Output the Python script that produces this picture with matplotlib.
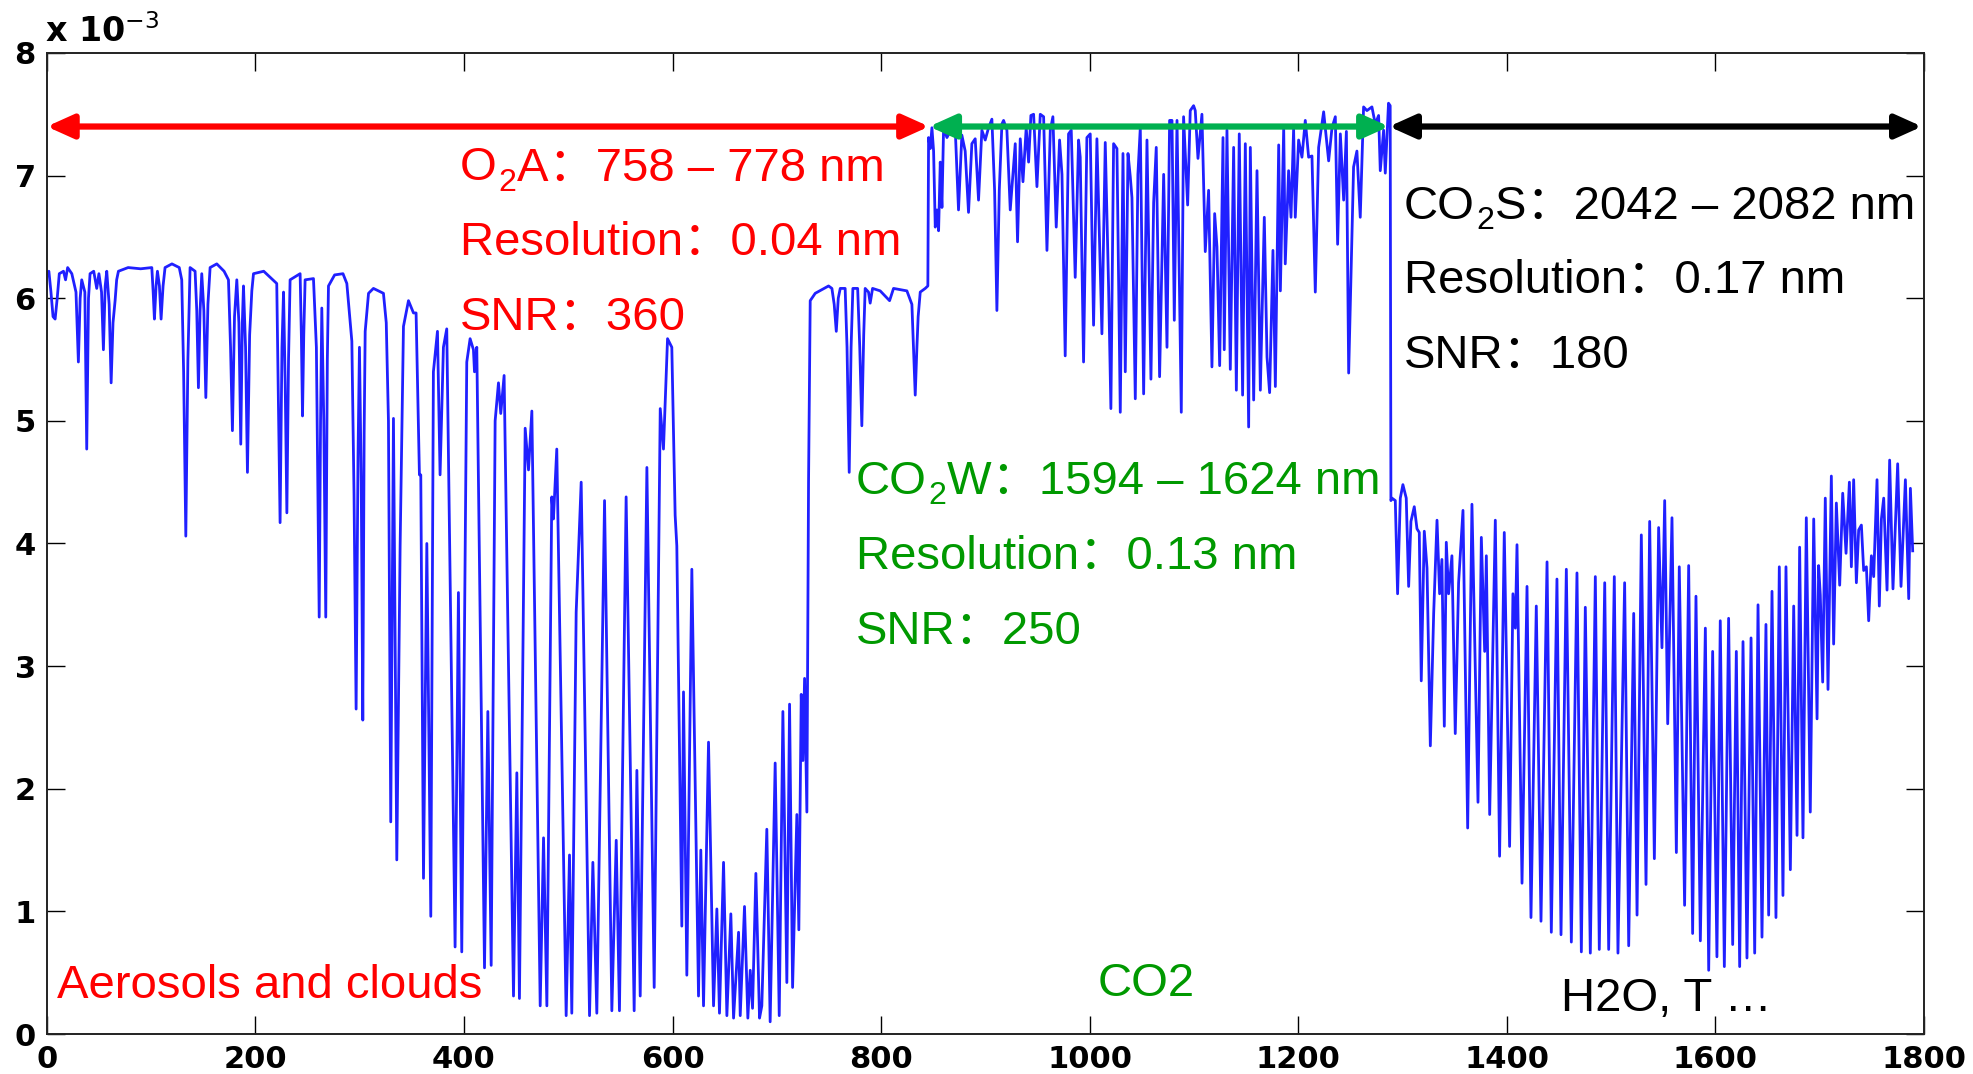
import numpy as np
import matplotlib
matplotlib.use("Agg")
import matplotlib.pyplot as plt

# Spectrum vertices (channel index, signal in units of 1e-3), one block per band.
o2a_band = np.array([
    (0, 6.20), (2, 6.22), (4, 6.05), (6, 5.85), (8, 5.83), (10, 6.0), (12, 6.20), (16, 6.22),
    (18, 6.15), (20, 6.25), (24, 6.20), (28, 6.05), (30.3, 5.48), (32, 6.0), (33.5, 6.15),
    (36.5, 6.05), (38.3, 4.77), (40, 6.0), (41.5, 6.20), (45, 6.22), (47.9, 6.08), (50, 6.2),
    (52.5, 6.05), (54.3, 5.58), (56, 6.1), (57.5, 6.22), (59.8, 5.95), (61.7, 5.31), (63.5, 5.8),
    (65.5, 5.98), (67, 6.15), (68.7, 6.22), (78, 6.25), (90, 6.24), (100.7, 6.25), (102, 6.05),
    (103.2, 5.83), (104.8, 6.1), (106.1, 6.22), (108, 6.1), (109.6, 5.83), (111.5, 6.1),
    (113.4, 6.25), (120, 6.28), (127, 6.25), (129.4, 6.15), (131.2, 5.4), (133.3, 4.06),
    (135.3, 5.5), (137.4, 6.25), (142.2, 6.22), (143.8, 5.9), (145.4, 5.27), (147, 5.9),
    (148.6, 6.2), (150.6, 5.9), (152.5, 5.19), (154.5, 5.95), (156.6, 6.25), (163, 6.28),
    (170, 6.22), (174.2, 6.15), (176.2, 5.6), (178, 4.92), (180, 5.85), (182.2, 6.15),
    (184.2, 5.8), (186, 4.81), (187.5, 5.8), (188.6, 6.1), (190.6, 5.6), (192.4, 4.58),
    (194.5, 5.7), (196.6, 6.06), (198.2, 6.2), (208, 6.22), (220.5, 6.12), (222, 5.2),
    (223.7, 4.17), (225.5, 5.6), (227, 6.05), (228.6, 5.3), (230.2, 4.25), (231.8, 5.5),
    (233.3, 6.15), (242.9, 6.2), (244.1, 5.7), (245.2, 5.04), (246.4, 5.7), (247.7, 6.15),
    (255.7, 6.16), (258.5, 5.6), (261.2, 3.40), (262.5, 5.0), (263.7, 5.92), (265.6, 5.0),
    (267.5, 3.40), (269, 5.5), (270.1, 6.1), (276, 6.19), (284, 6.2), (287.7, 6.12),
    (290.5, 5.85), (292.5, 5.65), (294.6, 4.4), (296.6, 2.65), (298.4, 4.7), (299.8, 5.6),
    (301.5, 4.5), (303, 2.56), (304.3, 4.9), (305.3, 5.73), (308.5, 6.04), (313.2, 6.08),
    (318, 6.06), (322.8, 6.04), (325.5, 5.8), (327.6, 5.0), (329.8, 1.73), (332.4, 5.02),
    (335.6, 1.42), (338.8, 3.98), (342, 5.77), (346.8, 5.98), (351.6, 5.88), (354.1, 5.88),
    (357.3, 4.56), (358.6, 4.56), (361.2, 1.27), (364.4, 4.0), (368.2, 0.96), (370.7, 5.4),
    (374.6, 5.73), (377.1, 4.56), (380.3, 5.6), (383.5, 5.75), (391.5, 0.71), (394.7, 3.6),
    (397.9, 0.67), (402.7, 5.48), (405.9, 5.67), (409.1, 5.58), (410.1, 5.4), (412.3, 5.6),
    (419.7, 0.54), (422.9, 2.63), (426.1, 0.56), (429.9, 5.0), (433.1, 5.31), (435.3, 5.06),
    (438.5, 5.37), (447.5, 0.31), (450.7, 2.13), (453.2, 0.29), (458.7, 4.94), (461.9, 4.6),
    (465.1, 5.08), (473.1, 0.23), (476.3, 1.6), (479.5, 0.23), (484.2, 4.38), (485.8, 4.2),
    (489, 4.77), (498, 0.15), (501.2, 1.46), (503.4, 0.17), (507.6, 3.44), (512.4, 4.5),
    (520.4, 0.15), (523.6, 1.4), (527.4, 0.17), (534.8, 4.35), (541.8, 0.19), (546, 1.58),
    (549.1, 0.19), (555.5, 4.38), (563.2, 0.19), (565.8, 2.15), (569, 0.31), (575.4, 4.62),
    (582.4, 0.38), (588.2, 5.1), (591.3, 4.77), (595.2, 5.67), (599.3, 5.6), (602.5, 4.23),
    (604.1, 3.98), (608.9, 0.88), (610.5, 2.79), (613.7, 0.48), (618.5, 3.79), (624.9, 0.31),
    (627.1, 1.5), (629.7, 0.23), (634.5, 2.38), (639.3, 0.23), (642.5, 1.02), (645, 0.17),
    (648.9, 1.4), (652.1, 0.15), (655.9, 0.98), (658.5, 0.13), (663.3, 0.83), (664.9, 0.15),
    (669, 1.04), (672.2, 0.13), (674.5, 0.52), (676.7, 0.21), (679.9, 1.31), (683.4, 0.13),
    (685.6, 0.23), (690.4, 1.67), (693.6, 0.10), (698.4, 2.21), (702.3, 0.15), (705.8, 2.63),
    (709.6, 0.42), (712.2, 2.69), (715.1, 0.38), (719.2, 1.79), (721.1, 0.85), (723.4, 2.77),
    (725, 2.23), (726.6, 2.9), (728.8, 1.81), (730.4, 4.5), (732, 5.98), (736.8, 6.04),
    (749.6, 6.1), (752.8, 6.08), (755, 5.95), (757, 5.73), (758.9, 6.0), (760.8, 6.08),
    (765.5, 6.08), (767.3, 5.6), (769.4, 4.58), (771.2, 5.6), (772.9, 6.08), (777.5, 6.08),
    (779.5, 5.6), (781.5, 4.96), (783.3, 5.7), (784.7, 6.08), (787.9, 6.05), (789.5, 5.96),
    (791.8, 6.08), (799.1, 6.06), (808.1, 5.98), (811.9, 6.08), (824.7, 6.06), (829.5, 5.95),
    (831, 5.6), (832.7, 5.21), (834.3, 5.6), (835.5, 5.85), (837.5, 6.05), (842.3, 6.08),
    (844.8, 6.1),
])

co2w_band = np.array([
    (845.5, 7.31), (847.1, 7.22), (848.7, 7.39), (850.3, 7.2), (851.9, 6.58), (853.5, 6.72),
    (855.1, 6.55), (856.7, 7.11), (858.3, 6.74), (859.9, 7.39), (863.1, 7.31), (867.9, 7.39),
    (871.1, 7.37), (874.2, 6.72), (877.4, 7.33), (880.6, 7.2), (883.8, 6.7), (887.0, 7.26),
    (890.2, 7.3), (893.4, 6.8), (896.6, 7.37), (899.8, 7.29), (903.0, 7.39), (906.2, 7.46),
    (908.8, 6.88), (911.0, 5.9), (913.3, 6.88), (915.8, 7.42), (917.4, 7.45), (920.6, 7.37),
    (923.8, 6.72), (928.6, 7.26), (930.8, 6.46), (933.4, 7.3), (936.0, 6.95), (939.1, 7.39),
    (941.4, 7.11), (943.6, 7.49), (946.2, 7.5), (949.4, 6.91), (952.6, 7.5), (955.8, 7.48),
    (959.0, 6.39), (962.2, 7.37), (964.7, 7.48), (967.9, 6.58), (971.1, 7.29), (973.4, 7.01),
    (976.5, 5.53), (979.7, 7.34), (982.3, 7.37), (986.1, 6.17), (989.3, 7.29), (990.9, 7.15),
    (994.1, 5.48), (997.3, 7.31), (1000.5, 7.34), (1003.7, 5.78), (1006.9, 7.3), (1011.7, 5.71),
    (1014.9, 7.27), (1018.1, 6.09), (1020.3, 5.1), (1022.9, 7.26), (1026.1, 7.22), (1029.3, 5.07),
    (1031.9, 7.18), (1034.1, 5.4), (1036.7, 7.18), (1038.9, 6.99), (1040.5, 6.82), (1043.7, 5.18),
    (1046.2, 7.01), (1048.5, 7.39), (1051.7, 5.22), (1054.9, 7.29), (1058.7, 5.34), (1061.3, 6.78),
    (1063.8, 7.23), (1067.0, 5.36), (1070.9, 7.01), (1074.1, 5.6), (1076.6, 7.45), (1078.9, 7.45),
    (1081.1, 5.82), (1083.7, 7.45), (1087.8, 5.07), (1090.0, 7.48), (1093.9, 6.76), (1096.4, 7.53),
    (1099.6, 7.57), (1101.2, 7.53), (1103.8, 7.14), (1107.6, 7.5), (1110.8, 6.38), (1114.0, 6.88),
    (1117.2, 5.44), (1119.8, 6.69), (1122.0, 6.42), (1124.6, 5.45), (1127.8, 7.31), (1129.0, 5.58),
    (1131.6, 7.37), (1134.8, 5.42), (1138.0, 7.23), (1140.6, 5.25), (1143.4, 7.34), (1146.6, 5.21),
    (1149.2, 7.26), (1152.4, 4.95), (1154.0, 7.23), (1157.2, 5.17), (1160.4, 7.04), (1163.6, 5.25),
    (1167.4, 6.66), (1170.0, 5.52), (1172.5, 5.23), (1175.7, 6.39), (1178.0, 5.28), (1181.2, 7.25),
    (1182.8, 6.06), (1186.0, 7.39), (1187.5, 6.28), (1190.7, 7.04), (1193.0, 6.66), (1195.5, 7.38),
    (1197.1, 6.66), (1200.3, 7.29), (1203.5, 7.15), (1206.7, 7.45), (1209.9, 7.15), (1213.1, 7.16),
    (1216.3, 6.05), (1219.5, 7.23), (1224.3, 7.52), (1229.1, 7.12), (1232.3, 7.39), (1235.5, 7.48),
    (1237.7, 6.44), (1240.3, 7.34), (1243.5, 6.8), (1246.1, 7.36), (1248.3, 5.39), (1253.0, 7.07),
    (1256.2, 7.2), (1259.4, 6.66), (1262.6, 7.56), (1265.8, 7.53), (1270.6, 7.56), (1273.8, 7.42),
    (1277.0, 7.49), (1278.6, 7.04), (1281.8, 7.37), (1283.4, 7.02), (1286.5, 7.59), (1288.1, 7.57),
])

co2s_band = np.array([
    (1288.8, 4.35), (1289.8, 4.37), (1293.0, 4.35), (1295.2, 3.59), (1297.8, 4.37), (1300.3, 4.48),
    (1303.5, 4.37), (1305.8, 3.65), (1308.0, 4.18), (1311.2, 4.3), (1313.8, 4.12), (1316.0, 4.09),
    (1317.9, 2.88), (1320.8, 4.1), (1323.4, 3.8), (1326.6, 2.35), (1329.8, 3.43), (1333.0, 4.19),
    (1335.5, 3.59), (1337.7, 3.87), (1340.0, 2.51), (1341.9, 4.01), (1344.1, 3.59), (1347.3, 3.9),
    (1350.5, 2.45), (1353.7, 3.68), (1357.9, 4.27), (1362.4, 1.68), (1366.5, 4.32), (1372.3, 1.89),
    (1375.5, 4.05), (1378.7, 3.12), (1380.3, 3.9), (1383.5, 1.79), (1388.9, 4.19), (1393.0, 1.45),
    (1397.5, 4.09), (1402.6, 1.53), (1405.8, 3.59), (1408.1, 3.31), (1409.7, 3.99), (1414.5, 1.23),
    (1419.3, 3.65), (1423.1, 0.95), (1428.2, 3.49), (1432.7, 0.92), (1438.5, 3.85), (1442.6, 0.83),
    (1448.0, 3.71), (1451.9, 0.81), (1457.0, 3.79), (1461.8, 0.75), (1467.2, 3.76), (1471.4, 0.67),
    (1475.2, 3.48), (1480.0, 0.66), (1484.8, 3.73), (1488.6, 0.69), (1493.8, 3.68), (1497.6, 0.69),
    (1503.0, 3.73), (1506.5, 0.66), (1512.9, 3.68), (1516.8, 0.72), (1521.6, 3.43), (1524.8, 0.97),
    (1528.9, 4.07), (1533.4, 1.22), (1536.9, 4.18), (1541.4, 1.43), (1545.5, 4.13), (1548.7, 3.15),
    (1551.3, 4.35), (1554.2, 2.53), (1558.3, 4.21), (1562.5, 1.48), (1565.3, 3.81), (1570.4, 1.05),
    (1574.3, 3.82), (1578.1, 0.82), (1581.3, 3.57), (1585.5, 0.76), (1590.3, 3.31), (1593.5, 0.52),
    (1597.3, 3.12), (1601.4, 0.63), (1604.6, 3.37), (1608.5, 0.55), (1612.6, 3.39), (1616.5, 0.73),
    (1620.0, 3.12), (1623.2, 0.55), (1626.4, 3.2), (1630.2, 0.62), (1634.1, 3.23), (1637.6, 0.66),
    (1640.8, 3.5), (1644.6, 0.79), (1648.4, 3.34), (1651.0, 0.97), (1654.2, 3.61), (1658.0, 0.95),
    (1661.2, 3.81), (1664.7, 1.13), (1667.6, 3.81), (1671.8, 1.34), (1675.0, 3.49), (1678.2, 1.62),
    (1680.7, 3.97), (1683.9, 1.6), (1687.1, 4.21), (1690.9, 1.81), (1694.2, 4.2), (1697.4, 2.57),
    (1698.9, 3.82), (1700.5, 3.58), (1702.8, 2.87), (1705.3, 4.37), (1707.9, 2.81), (1711.1, 4.55),
    (1713.3, 3.18), (1715.9, 4.33), (1719.1, 3.66), (1722.0, 4.41), (1725.2, 3.92), (1728.4, 4.5),
    (1730.3, 3.81), (1732.5, 4.52), (1735.1, 3.68), (1737.3, 4.11), (1739.9, 4.15), (1742.1, 3.78),
    (1744.7, 3.81), (1746.9, 3.37), (1749.5, 3.9), (1751.7, 3.73), (1754.9, 4.52), (1757.1, 3.49),
    (1759.1, 4.2), (1761.3, 4.37), (1764.5, 3.62), (1767.0, 4.68), (1770.2, 3.63), (1774.7, 4.65),
    (1777.9, 3.65), (1782.1, 4.52), (1785.3, 3.55), (1786.9, 4.45), (1789.1, 3.94),
])

# band extents along the channel axis (arrows across the top)
band_edges = [0, 846, 1287, 1798]
# first line of each band label is split as (molecule, subscript, rest)
band_names = [("O", "2", "A\uff1a758 \u2013 778 nm"),
              ("CO", "2", "W\uff1a1594 \u2013 1624 nm"),
              ("CO", "2", "S\uff1a2042 \u2013 2082 nm")]
band_res = ["Resolution\uff1a0.04 nm", "Resolution\uff1a0.13 nm", "Resolution\uff1a0.17 nm"]
band_snr = ["SNR\uff1a360", "SNR\uff1a250", "SNR\uff1a180"]
targets = ["Aerosols and clouds", "CO2", "H2O, T \u2026"]
x_ticks = list(range(0, 1801, 200))
y_ticks = list(range(0, 9))

plt.rcParams["font.family"] = ["Liberation Sans", "Noto Sans CJK SC", "DejaVu Sans"]

fig = plt.figure(figsize=(19.74, 10.74), dpi=100)
ax = fig.add_axes([0.0237, 0.0372, 0.9510, 0.9135])
renderer = fig.canvas.get_renderer()

spec = np.vstack([o2a_band, co2w_band, co2s_band])
ax.plot(spec[:, 0], spec[:, 1], color="#2020ff", lw=2.0, solid_joinstyle="round")

ax.set_xlim(0, 1800)
ax.set_ylim(0, 8)
ax.set_xticks(x_ticks)
ax.set_yticks(y_ticks)
ax.tick_params(direction="in", length=13, width=1.0, top=True, right=True,
               labelsize=22, pad=8, colors="black", labelfontfamily="DejaVu Sans")
for lab in ax.get_xticklabels() + ax.get_yticklabels():
    lab.set_fontweight("bold")
for sp in ax.spines.values():
    sp.set_linewidth(1.4)
    sp.set_color("#222222")

fig.text(0.0228, 0.9612, r"x 10$^{-3}$", fontsize=24, family="DejaVu Sans",
         fontweight="bold", va="baseline")

# band arrows
arrow_y = 7.40
arrow_colors = ["#ff0000", "#00b050", "#000000"]
for i, col in enumerate(arrow_colors):
    ax.annotate("", xy=(band_edges[i], arrow_y), xytext=(band_edges[i + 1], arrow_y),
                arrowprops=dict(arrowstyle="<|-|>,head_length=0.8,head_width=0.36",
                                color=col, lw=4.5, mutation_scale=20,
                                shrinkA=0, shrinkB=0),
                annotation_clip=False)

FS = 34


def label_with_subscript(x, y, parts, color):
    # molecule name, lowered smaller "2", then the rest of the line
    off = 0.0
    styles = [(1.0, 0.0), (0.68, -0.22), (1.0, 0.0)]
    for s, (scale, dy) in zip(parts, styles):
        t = ax.annotate(s, xy=(x, y), xycoords="data", xytext=(off, dy * FS),
                        textcoords="offset points", fontsize=FS * scale, color=color,
                        va="baseline", ha="left")
        off += t.get_window_extent(renderer).width * 72.0 / fig.dpi + 0.03 * FS * scale


# band descriptions
text_colors = ["#ff0000", "#009900", "#000000"]
text_x = [396, 776, 1301]
text_y = [6.96, 4.405, 6.65]
line_step = 0.61
for i in range(3):
    label_with_subscript(text_x[i], text_y[i], band_names[i], text_colors[i])
    ax.text(text_x[i], text_y[i] - line_step, band_res[i], color=text_colors[i],
            fontsize=FS, va="baseline", ha="left")
    ax.text(text_x[i], text_y[i] - 2 * line_step, band_snr[i], color=text_colors[i],
            fontsize=FS, va="baseline", ha="left")

ax.text(9.6, 0.29, targets[0], color=text_colors[0], fontsize=FS, va="baseline", ha="left")
ax.text(1054, 0.31, targets[1], color=text_colors[1], fontsize=FS, va="baseline", ha="center")
ax.text(1452, 0.19, targets[2], color=text_colors[2], fontsize=FS, va="baseline", ha="left")

fig.savefig("out.png", dpi=100)
